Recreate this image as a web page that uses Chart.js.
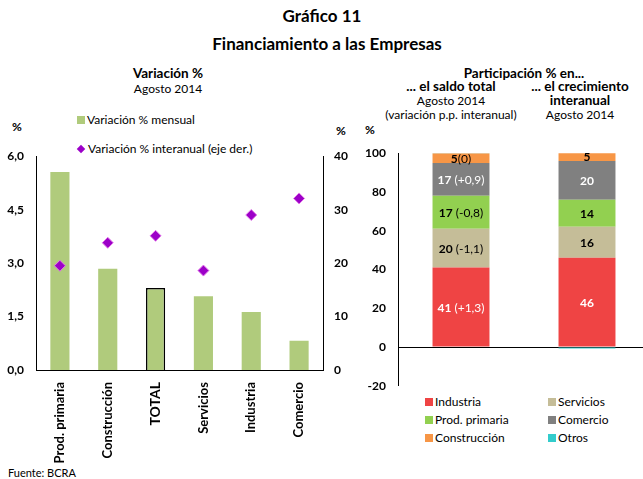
<!DOCTYPE html>
<html>
<head>
<meta charset="utf-8">
<script src="https://cdn.jsdelivr.net/npm/chart.js@4/dist/chart.umd.min.js"></script>
<style>
    body { margin: 0; background: #fff; font-family: Lato, "Open Sans", sans-serif; color: #000; }
    #wrap { position: relative; width: 643px; height: 479px; overflow: hidden; }
    .t { position: absolute; white-space: nowrap; line-height: 1; }
    .c { transform: translateX(-50%); text-align: center; }
    .b { font-weight: bold; }
    canvas { position: absolute; }
    .leg { position: absolute; font-size: 12px; white-space: nowrap; line-height: 1; display: flex; align-items: center; }
    .sq { display: inline-block; width: 8px; height: 8px; margin-right: 2px; }
    .dm { display: inline-block; width: 6px; height: 6px; margin: 0 4px 0 1px; transform: rotate(45deg); }
</style>
</head>
<body>
<div id="wrap">
    <div class="t c b" style="left:322px; top:7px; font-size:17px;">Gráfico 11</div>
    <div class="t c b" style="left:327px; top:35px; font-size:17px;">Financiamiento a las Empresas</div>

    <div class="t c b" style="left:168px; top:67px; font-size:13.5px;">Variación %</div>
    <div class="t c" style="left:168px; top:83px; font-size:12px;">Agosto 2014</div>
    <div class="t b" style="left:12px; top:121px; font-size:12px;">%</div>
    <div class="t b" style="left:336px; top:125px; font-size:12px;">%</div>

    <div class="t c b" style="left:524px; top:67px; font-size:13.5px;">Participación % en...</div>
    <div class="t c b" style="left:451px; top:80px; font-size:13.5px;">... el saldo total</div>
    <div class="t c" style="left:451px; top:95px; font-size:12px;">Agosto 2014</div>
    <div class="t c" style="left:451px; top:109px; font-size:12px;">(variación p.p. interanual)</div>
    <div class="t c b" style="left:580px; top:80px; font-size:13.5px;">... el crecimiento</div>
    <div class="t c b" style="left:580px; top:94px; font-size:13.5px;">interanual</div>
    <div class="t c" style="left:580px; top:109px; font-size:12px;">Agosto 2014</div>
    <div class="t b" style="left:365px; top:124px; font-size:12px;">%</div>

    <div class="t" style="left:8px; top:467px; font-size:11px;">Fuente: BCRA</div>

    <div id="legLeft"></div>
    <div id="legRight"></div>

    <canvas id="chartVar" width="350" height="333" style="left:0; top:137px;"></canvas>
    <canvas id="chartPart" width="300" height="271" style="left:350px; top:134px;"></canvas>
</div>

<script>
// --- datos: variación % ---
const sectores = ['Prod. primaria', 'Construcción', 'TOTAL', 'Servicios', 'Industria', 'Comercio'];
const variacionMensual = [5.56, 2.84, 2.30, 2.07, 1.63, 0.82];
const variacionInteranual = [19.5, 23.8, 25.1, 18.6, 29.0, 32.1];
const ticksIzq = [0, 1.5, 3, 4.5, 6];
const ticksDer = [0, 10, 20, 30, 40];

// --- datos: participación % ---
const columnas = ['saldo total', 'crecimiento interanual'];
const rubros = ['Industria', 'Servicios', 'Prod. primaria', 'Comercio', 'Construcción', 'Otros'];
const partSaldo = [41, 20, 17, 17, 5, 0.4];
const partCrecimiento = [46, 16, 14, 20, 5, -0.8];
const variacionPP = [' (+1,3)', ' (-1,1)', ' (-0,8)', ' (+0,9)', '(0)', ''];
const ticksPart = [-20, 0, 20, 40, 60, 80, 100];

const rubroColores = ['#ef4444', '#c5bd98', '#92d050', '#808080', '#f79646', '#33cccc'];
const rubroTexto = ['#fff', '#000', '#000', '#fff', '#000', '#000'];

const FONT = 'Lato, "Open Sans", sans-serif';
Chart.defaults.font.family = FONT;
Chart.defaults.color = '#000';

const verde = '#b0cb7c';
const violeta = '#9c00c8';

// leyendas
const legLeft = document.getElementById('legLeft');
legLeft.innerHTML = `
    <div class="leg" style="left:77px; top:114px;"><span class="sq" style="background:${verde}"></span>Variación % mensual</div>
    <div class="leg" style="left:77px; top:143px;"><span class="dm" style="background:${violeta}"></span>Variación % interanual (eje der.)</div>
`;
const legRight = document.getElementById('legRight');
legRight.innerHTML = rubros.map((r, i) => {
    const x = i % 2 === 0 ? 425 : 548;
    const y = 396 + Math.floor(i / 2) * 18;
    return `<div class="leg" style="left:${x}px; top:${y}px;"><span class="sq" style="background:${rubroColores[i]}"></span>${r}</div>`;
}).join('');

// 1. gráfico de variación
new Chart(document.getElementById('chartVar'), {
    type: 'bar',
    data: {
        labels: sectores,
        datasets: [
            {
                type: 'scatter',
                label: 'Variación % interanual (eje der.)',
                data: variacionInteranual.map((v, i) => ({ x: sectores[i], y: v })),
                yAxisID: 'y2',
                pointStyle: 'rectRot',
                pointRadius: 5.5,
                backgroundColor: violeta,
                borderColor: '#e27ae8',
                borderWidth: 1
            },
            {
                type: 'bar',
                label: 'Variación % mensual',
                data: variacionMensual,
                yAxisID: 'y',
                backgroundColor: verde,
                borderColor: sectores.map(s => s === 'TOTAL' ? '#000' : verde),
                borderWidth: sectores.map(s => s === 'TOTAL' ? 1.5 : 0),
                categoryPercentage: 1,
                barPercentage: 0.4
            }
        ]
    },
    options: {
        responsive: false,
        animation: false,
        layout: { padding: 0 },
        plugins: { legend: { display: false }, tooltip: { enabled: false } },
        scales: {
            x: {
                type: 'category',
                offset: true,
                grid: { display: false },
                border: { color: '#000', width: 1 },
                ticks: {
                    minRotation: 90, maxRotation: 90, padding: 4,
                    font: c => ({ size: c.tick && c.tick.label === 'TOTAL' ? 14 : 13, weight: 'bold' })
                },
                afterFit: s => { s.height = 100; }
            },
            y: {
                position: 'left',
                min: 0, max: 6,
                afterBuildTicks: s => { s.ticks = ticksIzq.map(v => ({ value: v })); },
                grid: { display: false, drawTicks: false },
                border: { color: '#000', width: 1 },
                ticks: {
                    padding: 12,
                    font: { size: 12, weight: 'bold' },
                    callback: v => v.toFixed(1).replace('.', ',')
                },
                afterFit: s => { s.width = 36; }
            },
            y2: {
                position: 'right',
                min: 0, max: 40,
                afterBuildTicks: s => { s.ticks = ticksDer.map(v => ({ value: v })); },
                grid: { display: false, drawTicks: false },
                border: { color: '#000', width: 1 },
                ticks: { padding: 11, font: { size: 12, weight: 'bold' } },
                afterFit: s => { s.width = 27; }
            }
        }
    }
});

// etiquetas dentro de las barras apiladas
const etiquetasPlugin = {
    id: 'etiquetas',
    afterDatasetsDraw(chart) {
        const ctx = chart.ctx;
        ctx.save();
        ctx.textBaseline = 'middle';
        chart.data.datasets.forEach((ds, i) => {
            if (i >= 5) return;
            chart.getDatasetMeta(i).data.forEach((el, j) => {
                const valor = String(Math.round(ds.data[j]));
                const extra = j === 0 ? variacionPP[i] : '';
                ctx.font = 'bold 12px ' + FONT;
                const w1 = ctx.measureText(valor).width;
                ctx.font = '12px ' + FONT;
                const w2 = ctx.measureText(extra).width;
                let x = el.x - (w1 + w2) / 2;
                const y = (el.y + el.base) / 2 + 1;
                ctx.fillStyle = rubroTexto[i];
                ctx.textAlign = 'left';
                ctx.font = 'bold 12px ' + FONT;
                ctx.fillText(valor, x, y);
                ctx.font = '12px ' + FONT;
                ctx.fillText(extra, x + w1, y);
            });
        });
        ctx.restore();
    }
};

// 2. gráfico de participación
new Chart(document.getElementById('chartPart'), {
    type: 'bar',
    data: {
        labels: columnas,
        datasets: rubros.map((r, i) => ({
            label: r,
            data: [partSaldo[i], partCrecimiento[i]],
            backgroundColor: rubroColores[i],
            borderWidth: 0,
            categoryPercentage: 1,
            barPercentage: 0.452
        }))
    },
    plugins: [etiquetasPlugin],
    options: {
        responsive: false,
        animation: false,
        layout: { padding: 0 },
        plugins: { legend: { display: false }, tooltip: { enabled: false } },
        scales: {
            x: {
                stacked: true,
                display: false
            },
            y: {
                stacked: true,
                min: -20, max: 100,
                afterBuildTicks: s => { s.ticks = ticksPart.map(v => ({ value: v })); },
                grid: {
                    drawTicks: false,
                    color: c => c.tick && c.tick.value === 0 ? '#000' : 'rgba(0,0,0,0)',
                    lineWidth: 1
                },
                border: { color: '#000', width: 1 },
                ticks: { padding: 12, font: { size: 12, weight: 'bold' } },
                afterFit: s => { s.width = 48; }
            }
        }
    }
});
</script>
</body>
</html>
